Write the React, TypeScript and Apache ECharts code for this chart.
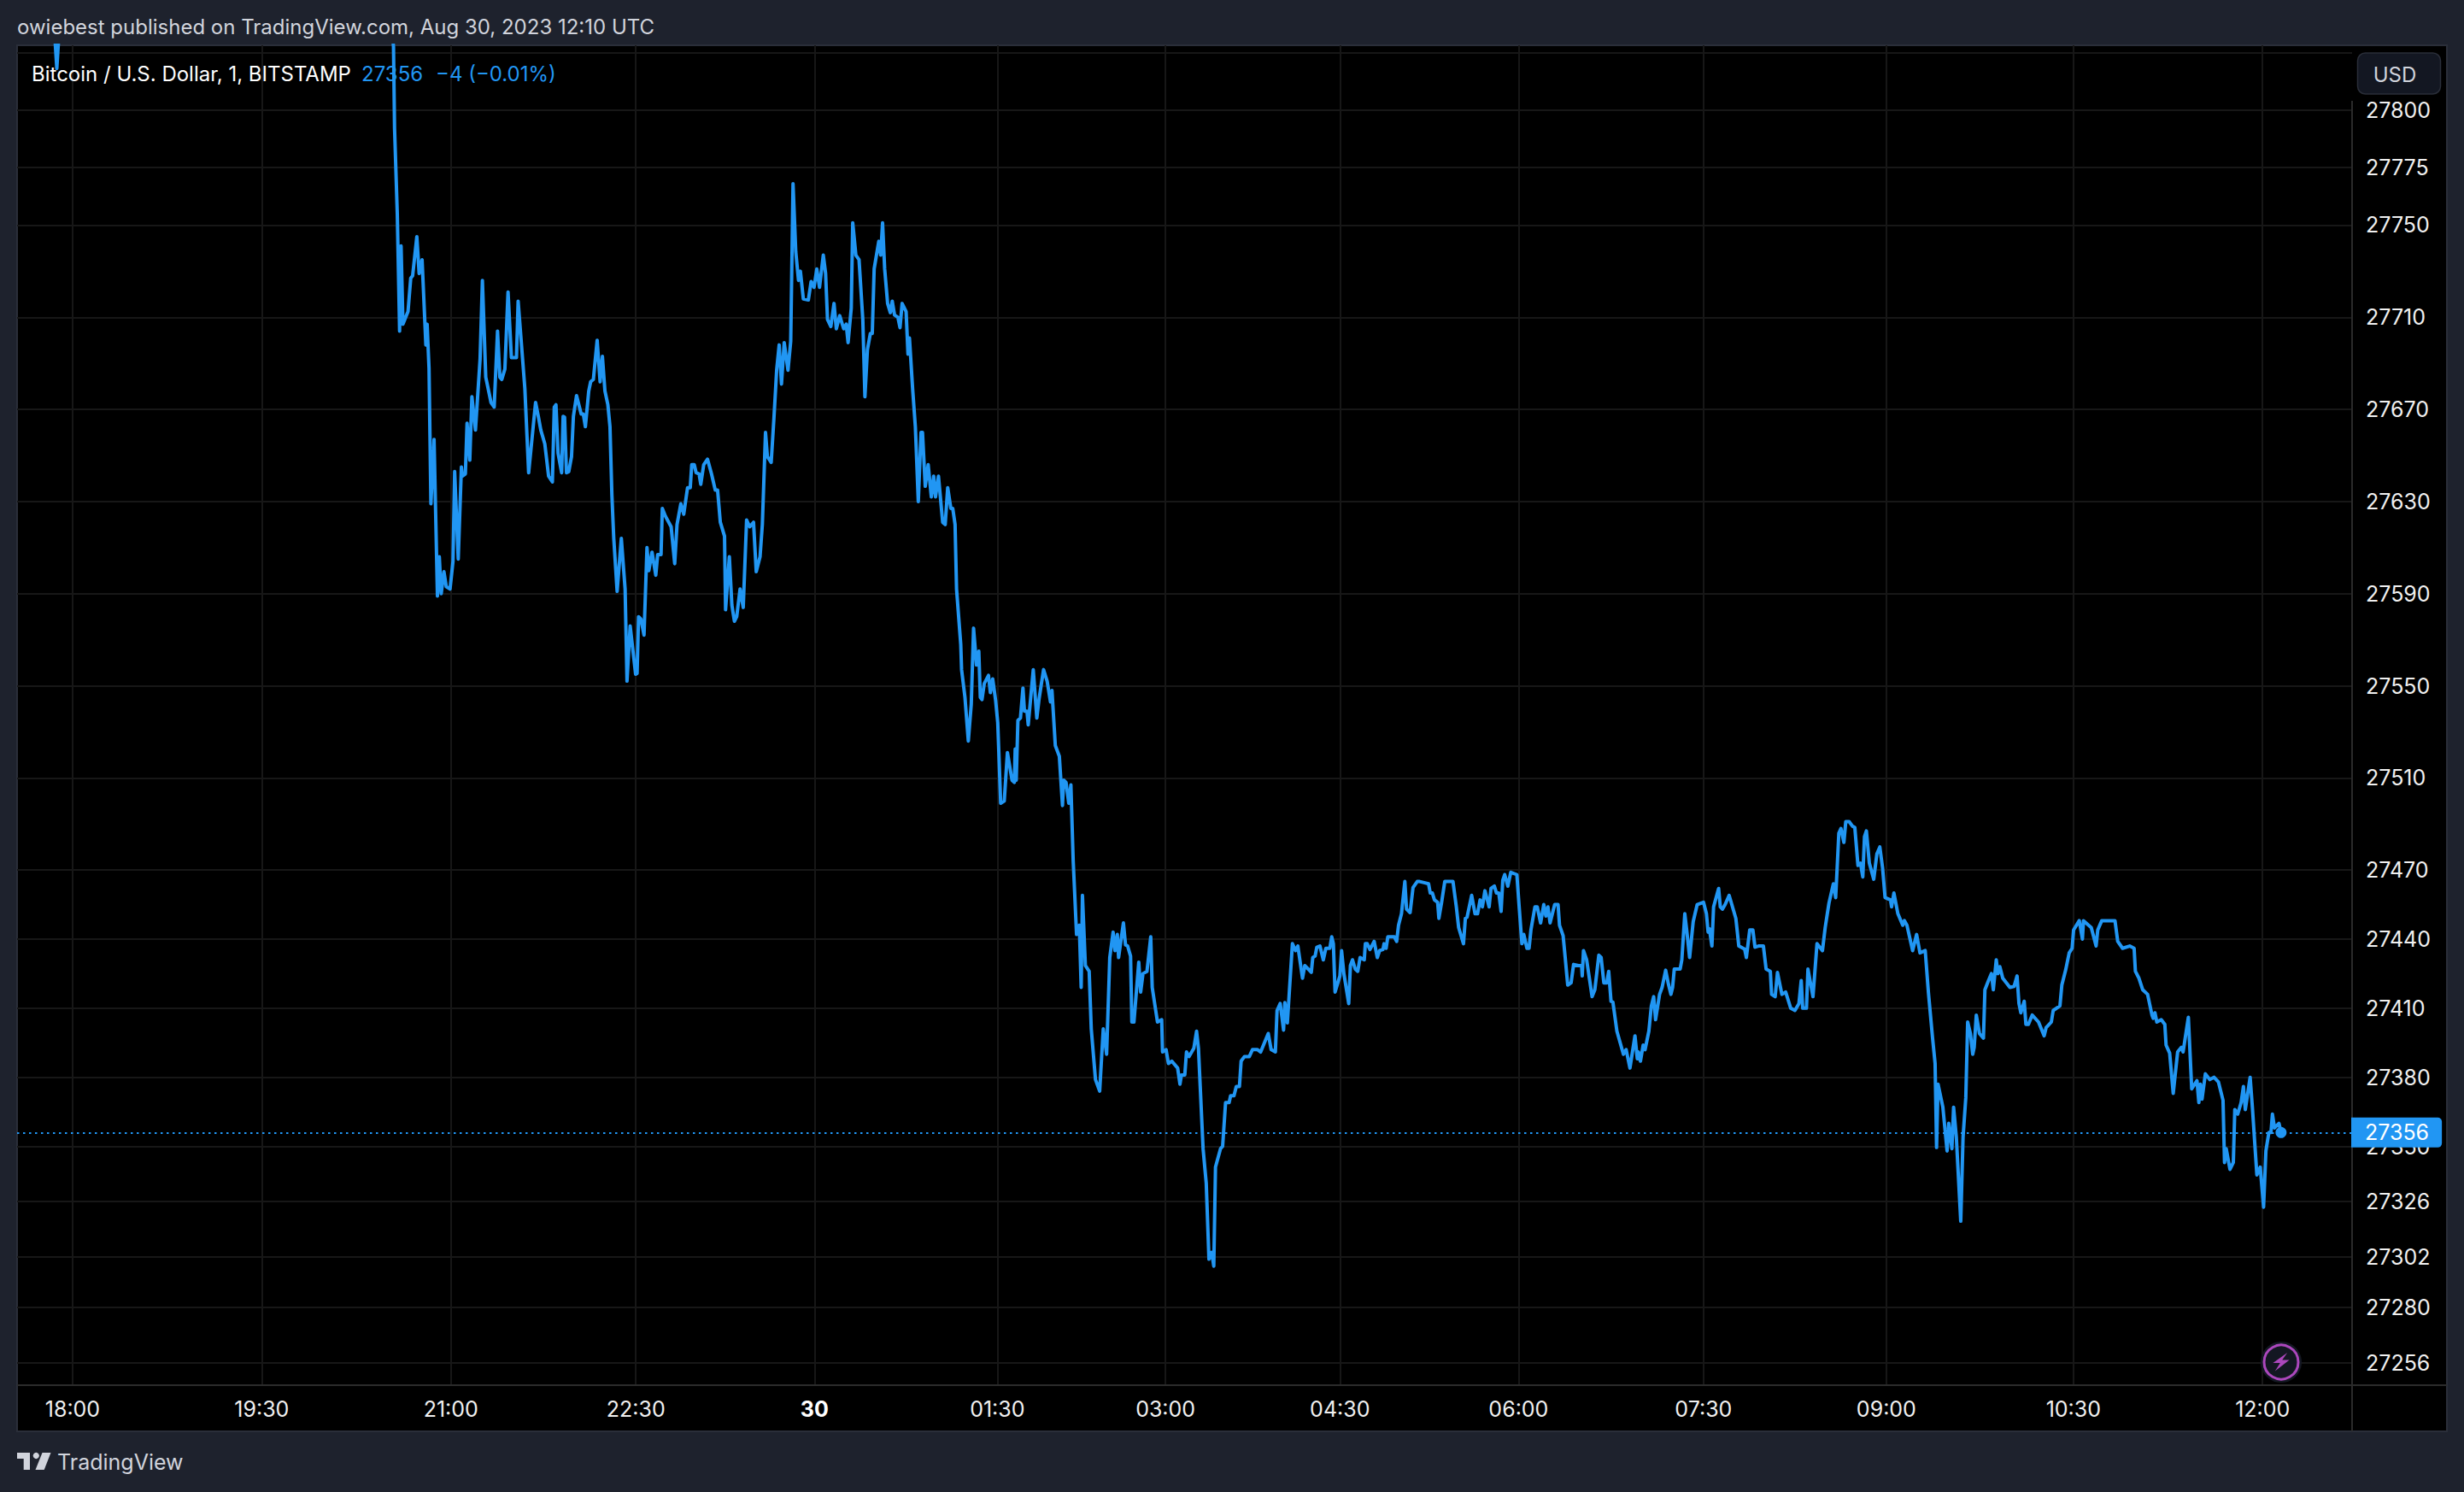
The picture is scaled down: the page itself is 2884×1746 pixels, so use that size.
import React, { useEffect, useRef } from "react";
import * as echarts from "echarts";

const headerText = "owiebest published on TradingView.com, Aug 30, 2023 12:10 UTC";
const symbolText = "Bitcoin / U.S. Dollar, 1, BITSTAMP";
const lastText = "27356";
const changeText = "\u22124 (\u22120.01%)";
const currency = "USD";
const brand = "TradingView";
const lastPrice = 27356;
const lastBar = 1050.8;

const priceTicks = [27825, 27800, 27775, 27750, 27710, 27670, 27630, 27590, 27550, 27510, 27470, 27440, 27410, 27380, 27350, 27326, 27302, 27280, 27256];
const timeTicks = [0, 90, 180, 268, 353, 440, 520, 603, 688, 776, 863, 952, 1042];
const timeLabels = ["18:00", "19:30", "21:00", "22:30", "30", "01:30", "03:00", "04:30", "06:00", "07:30", "09:00", "10:30", "12:00"];

// [bar index, price]
const offChart: number[][] = [[-11, 27860], [-9, 27840], [-7.5, 27818], [-6, 27840], [-4, 27860], [150, 27860]];
const evening: number[][] = [[152.7, 27827.4], [153.2, 27792], [154.5, 27755], [155.6, 27704], [156.3, 27741], [157.2, 27707], [159.6, 27712.5], [160.9, 27727], [161.8, 27728], [163.8, 27745], [164.9, 27729], [166.3, 27735], [168.1, 27698], [168.7, 27707], [169.6, 27688], [170.5, 27629], [172, 27657], [173.6, 27589], [174.5, 27606], [175.4, 27590], [176.7, 27599.5], [177.8, 27593], [179.6, 27592], [181, 27604], [181.8, 27643], [183.5, 27605], [185, 27645], [185.5, 27641], [186.9, 27642], [187.7, 27664], [189, 27648], [190, 27675.5], [191.7, 27661], [193.9, 27692], [195, 27726], [196.6, 27684], [199.1, 27673], [200.6, 27671], [202.2, 27704], [203.3, 27684], [204.2, 27683], [205.7, 27687.5], [207.2, 27721], [208.8, 27692.5], [211.2, 27692.5], [212, 27717], [215.2, 27679], [217, 27642.5], [220.3, 27673], [221.6, 27667], [222.8, 27661], [224.7, 27655], [226.5, 27641], [228.3, 27638.5], [229.2, 27671], [230, 27672], [231, 27651], [232.7, 27642.5], [233.4, 27667], [234.1, 27666.6], [235, 27642.5], [236.1, 27643], [237.4, 27649.5], [238.3, 27667], [239.8, 27676], [242, 27668], [243, 27668], [244, 27662.5], [245.6, 27678], [246.5, 27682], [247.8, 27683], [249.6, 27700], [251, 27682], [252.1, 27693], [253.3, 27678], [254.7, 27672], [255.7, 27662.5], [256.6, 27633], [257.5, 27614], [259.1, 27591], [261.1, 27614], [262.9, 27592], [263.8, 27552], [265.3, 27576], [267.9, 27555], [268.6, 27555.4], [269.3, 27580], [270.4, 27579], [271.9, 27572], [273.3, 27610], [274.2, 27600], [275.7, 27608], [277.5, 27598], [278.4, 27607], [280, 27607], [280.6, 27627], [282.1, 27623.6], [284.8, 27619], [286.5, 27603], [287.6, 27620], [289.4, 27629], [290.8, 27624.5], [292.6, 27636], [293.9, 27636], [294.6, 27646], [295.8, 27646], [296.7, 27642.5], [298.1, 27642], [298.9, 27637.5], [300.3, 27646], [302.1, 27648.4], [304, 27642], [305.8, 27635], [306.9, 27635], [308.2, 27621], [310.2, 27615], [310.7, 27583], [312.5, 27606], [313.7, 27585], [314.9, 27578], [316, 27580], [317.6, 27592], [319.1, 27584], [320.7, 27622], [322.2, 27619], [324, 27621], [325.3, 27599.5], [327.1, 27606], [328.2, 27620], [329.7, 27660], [330.6, 27649.5], [332.4, 27647], [333.7, 27666], [335, 27687], [336.2, 27698], [337.3, 27681], [338.6, 27699], [340.4, 27687], [341.7, 27699.6], [342.8, 27768], [344.1, 27738.5], [345.4, 27726], [346.3, 27730], [347.7, 27718], [350.1, 27717.5]];
const midnight: number[][] = [[351.4, 27725.5], [352.8, 27723], [354.1, 27731], [355.4, 27723], [357.2, 27737], [358.3, 27729], [359.2, 27709], [360.8, 27706], [362.3, 27716], [363.4, 27705], [365, 27710.7], [366.9, 27705], [368.1, 27707], [369, 27699], [370.5, 27714], [371.2, 27751], [372.7, 27737], [374.2, 27735], [376, 27709], [377, 27675.5], [378.2, 27696], [379.6, 27703], [380.5, 27703], [381.4, 27731], [383.6, 27743], [384.5, 27737], [385.4, 27751], [386.4, 27731], [387.8, 27716], [389.1, 27712], [390, 27717], [391.1, 27711], [392.7, 27710], [393.7, 27705.5], [394.7, 27716], [396.6, 27712.5], [397.5, 27694], [398.2, 27701], [399.7, 27679], [401, 27662.5], [402.4, 27630], [403.7, 27660], [404.4, 27660], [405.7, 27636.6], [407.1, 27646], [408.6, 27632], [409.7, 27641], [410.6, 27632], [412, 27641], [414, 27621], [415.2, 27620], [416.4, 27636], [417.9, 27627], [418.8, 27627], [419.9, 27620], [420.6, 27592], [422.6, 27568], [423, 27557], [424.6, 27545], [426.2, 27526], [427.6, 27542], [428.7, 27575], [430.1, 27559], [431.2, 27565], [431.9, 27545], [432.7, 27544], [433.8, 27551], [435.8, 27554.5], [436.7, 27547], [437.8, 27553], [439.2, 27543.6], [440.2, 27534], [441.6, 27499], [443.3, 27500], [444.8, 27521], [447, 27509], [448.1, 27508], [448.5, 27522.5], [449, 27509], [449.8, 27535], [451, 27536], [452.2, 27549], [452.9, 27539], [454.1, 27539], [454.7, 27533], [457.1, 27557], [458.8, 27536], [459.9, 27544.5], [462, 27557], [463.7, 27552], [465.3, 27543], [466, 27548], [467.6, 27524], [469.5, 27519.4], [471, 27498], [471.6, 27509], [472.7, 27508], [474, 27499], [475, 27507], [476.1, 27474], [477.7, 27442], [479, 27446], [479.9, 27419], [480.5, 27459], [481.9, 27428.5], [483.7, 27426], [484.7, 27401], [486.7, 27379], [488.7, 27374], [490.4, 27401], [492, 27390], [493.5, 27432], [495.1, 27443], [496, 27435], [497.1, 27442], [497.7, 27432], [500, 27447], [501, 27437.5], [502, 27437], [503.4, 27432.6], [504, 27404], [505, 27404], [507.3, 27430], [508.2, 27417], [509.3, 27425], [511.2, 27426], [513, 27441], [513.7, 27419], [516.2, 27404], [518.2, 27405], [518.6, 27391], [520.3, 27392], [521.4, 27386], [523, 27387], [525.8, 27384], [526.9, 27377], [527.6, 27381], [529.2, 27381], [530, 27391], [531.2, 27389], [533.5, 27392.6], [534.8, 27400], [535.7, 27392.6], [537.9, 27349], [539.4, 27334], [540.7, 27301], [542, 27304], [543, 27298], [543.8, 27341], [546.2, 27349], [547.2, 27350]];
const earlyMorning: number[][] = [[548.6, 27369], [550.3, 27369], [551, 27372], [552.6, 27372], [553.7, 27376], [555.2, 27376], [556, 27387], [557.6, 27389], [559.9, 27389], [561.4, 27392], [563.8, 27392], [565.3, 27391], [568.9, 27399], [570.3, 27392], [572.3, 27391], [573.1, 27409], [574.6, 27412], [576.2, 27400.5], [576.8, 27412.4], [578, 27403.6], [580.4, 27438], [581.9, 27435], [583, 27437], [585.2, 27423], [586.3, 27428.5], [589.4, 27425.6], [590.1, 27432], [591.2, 27432.6], [592, 27436.4], [593.5, 27437], [595.1, 27431], [596.3, 27436], [598.2, 27436], [599.1, 27441], [599.9, 27438], [600.7, 27417], [603, 27424], [603.8, 27435], [604.9, 27425], [607.2, 27412], [608, 27428.5], [609, 27431], [610.3, 27427], [611.5, 27426], [612.6, 27432], [614.6, 27431], [615.1, 27438], [616, 27438], [617.3, 27435.5], [619.3, 27439], [620.8, 27432], [621.9, 27435], [623.5, 27435.5], [624, 27438], [625, 27436], [625.8, 27441], [628.9, 27441], [630, 27439], [630.9, 27446], [632.3, 27451], [633.9, 27465], [634.7, 27453], [636.4, 27451.5], [637.8, 27462.4], [639.8, 27465], [640.9, 27465], [643, 27464.5], [645.2, 27464], [646, 27460], [647, 27460], [648, 27457], [649.5, 27456], [650.1, 27449], [651.4, 27456], [652.9, 27465], [654.9, 27465], [656.8, 27465], [658.4, 27454], [659.5, 27445], [661.8, 27438], [662.7, 27449], [663.5, 27449.5], [665.7, 27459], [667.3, 27451], [668.5, 27451], [669.7, 27457], [670.8, 27454], [672, 27461], [674, 27454], [674.9, 27462], [676.5, 27463], [677.5, 27460], [678.6, 27460], [679.7, 27452], [680.5, 27465.5], [681.4, 27468], [682.9, 27463], [684.3, 27469], [687.2, 27468], [688.3, 27454], [689.6, 27438], [690.5, 27442], [692, 27436], [693, 27436], [693.9, 27444], [695.8, 27454], [696.9, 27454], [698.5, 27447], [700, 27455], [701, 27450], [702, 27454], [703, 27447], [705.2, 27455], [706.8, 27455], [707.5, 27446], [709.2, 27441.5], [710.2, 27432], [711.4, 27420], [713, 27421], [714.2, 27429], [716.5, 27428.5], [718, 27428.5], [718.3, 27424], [718.9, 27435], [720.4, 27431], [723, 27415], [724.3, 27418], [726.2, 27433], [727.3, 27432], [728.6, 27421], [730, 27421], [730.9, 27426], [732, 27413], [732.9, 27412.6], [734.8, 27400], [737.9, 27390], [739.2, 27392], [741, 27384], [743.4, 27398], [744.5, 27388], [745, 27391], [746, 27387], [747.3, 27394], [748.2, 27392], [750, 27400], [751.2, 27411], [752.3, 27415], [753.2, 27405], [755.1, 27416], [756.3, 27419], [758, 27426.5], [759.3, 27420.5], [760.5, 27416], [761.3, 27419], [762.1, 27427], [764.9, 27427], [765.7, 27431], [767.1, 27451], [768, 27444], [769.4, 27432], [771.1, 27447.6], [773, 27455], [776, 27456], [777.4, 27451], [778.2, 27443], [778.8, 27444.5], [780, 27437], [780.8, 27454], [783.2, 27462], [784, 27454], [785, 27453], [786.3, 27455], [788.2, 27459], [791.4, 27449], [792.8, 27437], [795.6, 27435.6], [796.4, 27432], [798, 27444], [799.5, 27444], [800.5, 27436.5], [802.2, 27437], [804.5, 27437], [805.8, 27427], [807.8, 27426], [808.4, 27416], [810.1, 27415], [811.2, 27425.5], [813.3, 27416], [815.1, 27417], [817.5, 27410], [819.5, 27409], [821.4, 27412], [822.5, 27422], [823.2, 27410], [825, 27410], [825.7, 27427], [828.1, 27415], [830, 27438], [832.6, 27435], [833.9, 27445], [835.7, 27455.6], [837.8, 27464], [838.9, 27458], [840.4, 27486], [841.4, 27488], [842.8, 27482], [843.7, 27491], [845.3, 27491], [846.9, 27489], [848, 27488.5], [849.5, 27472], [850.7, 27473], [851.8, 27467], [852.6, 27484.5], [853.5, 27487], [854.9, 27473], [857, 27466], [858.5, 27477], [859.9, 27480], [861.2, 27471], [862.4, 27458]];
const lateMorning: number[][] = [[865, 27457], [865.5, 27454], [866.6, 27460], [868.5, 27451], [870.8, 27446], [871.6, 27448], [872.8, 27446], [875.5, 27435], [877.4, 27442], [879, 27434], [881.5, 27435], [883, 27417], [885, 27397], [886.2, 27386], [886.9, 27349.5], [887.6, 27377], [889.9, 27367], [891.9, 27348], [892.7, 27360], [894.2, 27349], [895, 27367], [896.3, 27354], [898.4, 27317.5], [899.5, 27354], [900.8, 27371], [901.7, 27404], [903, 27399], [904.1, 27390], [904.8, 27393], [905.8, 27407], [907.3, 27399], [909.2, 27397], [909.9, 27418], [911.6, 27422], [913, 27425], [913.9, 27418], [915.3, 27431], [916.1, 27425], [917, 27428], [918.4, 27423], [921.8, 27419], [923.8, 27419.5], [925.2, 27424], [926.1, 27412], [927, 27408], [928.6, 27413], [929.4, 27403], [930.6, 27403], [932.4, 27407], [935.4, 27404], [938.1, 27398], [939, 27401.5], [941.5, 27404], [942.4, 27409], [945.6, 27411], [946.5, 27420], [948.3, 27426.5], [950, 27434], [951.4, 27436], [952.1, 27444], [954.8, 27448], [956.3, 27440], [956.8, 27448], [960.5, 27445], [962.8, 27437], [963.6, 27444], [965.5, 27448], [971.8, 27448], [973.1, 27439], [975.4, 27436], [978.8, 27437], [980.9, 27436], [981.5, 27426], [983.2, 27423], [985, 27418], [987.3, 27416], [989.4, 27407], [990, 27405.6], [990.8, 27408], [991.7, 27404], [993.8, 27405], [995.5, 27403], [996.1, 27394], [997.8, 27390.5], [999.5, 27373], [1001.6, 27391], [1003.4, 27393], [1004.2, 27391], [1006.7, 27406], [1008.3, 27375], [1010.8, 27378.5], [1011.7, 27369], [1012.4, 27377], [1013.2, 27370.5], [1014.8, 27381.5], [1016.9, 27379], [1018.9, 27380], [1021, 27378], [1023.2, 27370], [1023.9, 27343], [1024.7, 27349], [1026.5, 27340], [1028.1, 27343], [1028.8, 27366], [1030.2, 27364], [1031.8, 27369], [1032.9, 27376], [1033.8, 27366], [1036.1, 27380], [1037.2, 27366.5], [1039.3, 27337.6], [1040.9, 27341], [1042.5, 27323.6], [1043.6, 27348], [1045, 27356], [1046, 27356], [1046.7, 27364], [1047.7, 27358], [1049.8, 27360], [1050.8, 27356]];

const BLUE = "#2196f3";
const PANEL = "#1e222d";
const BORDER = "#2a2e39";
const AXIS = "#2b2b2b";
const GRID = "#171717";
const FONT = "Inter, sans-serif";

const boltPath = "M6 0 L-8 10 L-1 10 L-6 18 L8 7 L1 7 Z";
echarts.graphic.registerShape("bolt", echarts.graphic.extendPath(boltPath, {}) as any);

export default function App() {
  const ref = useRef<HTMLDivElement>(null);
  useEffect(() => {
    if (!ref.current) return;
    const chart = echarts.init(ref.current, undefined, { renderer: "svg", width: 2884, height: 1746 });
    const text = (x: number, y: number, t: string, fill: string, size = 24, align = "left") => ({
      type: "text",
      z: 10,
      style: { x, y, text: t, fill, font: `${size}px ${FONT}`, textAlign: align, textVerticalAlign: "middle" },
    });
    const seg = (x1: number, y1: number, x2: number, y2: number, stroke: string) => ({
      type: "line",
      z: 5,
      shape: { x1, y1, x2, y2 },
      style: { stroke, lineWidth: 2 },
    });
    chart.setOption({
      animation: false,
      backgroundColor: PANEL,
      grid: { left: 20, right: 131, top: 53, bottom: 125, containLabel: false },
      xAxis: {
        type: "value",
        min: -26.4,
        max: 1084.6,
        axisLine: { show: false },
        axisTick: { show: false, customValues: timeTicks },
        splitLine: { show: true, lineStyle: { color: GRID, width: 2 } },
        axisLabel: {
          customValues: timeTicks,
          margin: 15,
          color: "#f0f0f0",
          fontFamily: FONT,
          fontSize: 25,
          formatter: (v: number) => {
            const label = timeLabels[timeTicks.indexOf(v)] ?? "";
            return label === "30" ? `{b|${label}}` : label;
          },
          rich: { b: { fontWeight: "bold", fontSize: 25, color: "#ffffff", fontFamily: FONT } },
        },
      },
      yAxis: {
        type: "value",
        position: "right",
        min: 27246.3,
        max: 27828.1,
        axisLine: { show: false },
        axisTick: { show: false, customValues: priceTicks },
        splitLine: { show: true, lineStyle: { color: GRID, width: 2 } },
        axisLabel: {
          customValues: priceTicks,
          margin: 16,
          color: "#f0f0f0",
          fontFamily: FONT,
          fontSize: 25,
          align: "left",
          formatter: (v: number) => (v === 27825 ? "" : String(v)),
        },
      },
      series: [
        {
          type: "line",
          data: [...offChart, ...evening, ...midnight, ...earlyMorning, ...lateMorning],
          symbol: "none",
          clip: true,
          lineStyle: { color: BLUE, width: 4, join: "round" },
          z: 3,
          markLine: {
            silent: true,
            symbol: "none",
            animation: false,
            lineStyle: { color: BLUE, width: 2, type: [2.5, 4.5], opacity: 1 },
            label: {
              show: true,
              position: "end",
              distance: -1,
              formatter: String(lastPrice),
              color: "#ffffff",
              fontFamily: FONT,
              fontSize: 25,
              backgroundColor: BLUE,
              borderRadius: [0, 5, 5, 0],
              padding: [5, 15, 5, 16],
            },
            data: [{ yAxis: lastPrice }],
          },
          markPoint: {
            silent: true,
            animation: false,
            symbol: "circle",
            symbolSize: 13,
            itemStyle: { color: BLUE },
            label: { show: false },
            data: [{ coord: [lastBar, lastPrice] }],
          },
        },
      ],
      graphic: {
        elements: [
          { type: "rect", z: -10, shape: { x: 20, y: 53, width: 2844, height: 1622 }, style: { fill: "#000000", stroke: BORDER, lineWidth: 2 } },
          seg(2753, 118, 2753, 1675, AXIS),
          seg(20, 1621, 2864, 1621, AXIS),
          text(20, 31, headerText, "#d1d4dc", 24),
          text(37, 86, symbolText, "#ffffff", 24),
          text(423, 86, lastText, BLUE, 24),
          text(510, 86, changeText, BLUE, 24),
          { type: "rect", z: 6, shape: { x: 2759.5, y: 62, width: 97, height: 48, r: 9 }, style: { fill: "#131722", stroke: BORDER, lineWidth: 1.5 } },
          text(2803, 87, currency, "#d1d4dc", 24, "center"),
          { type: "circle", z: 7, shape: { cx: 2670, cy: 1594, r: 24 }, style: { fill: "#131722" } },
          { type: "circle", z: 8, shape: { cx: 2670, cy: 1594, r: 20 }, style: { fill: "#131722", stroke: "#ab47bc", lineWidth: 3 } },
          { type: "bolt", z: 9, x: 2670, y: 1583, scaleX: 1.2, scaleY: 1.2, style: { fill: "#ab47bc" } },
          { type: "polygon", z: 9, shape: { points: [[20, 1700], [35, 1700], [35, 1720], [27.7, 1720], [27.7, 1707], [20, 1707]] }, style: { fill: "#d1d4dc" } },
          { type: "circle", z: 9, shape: { cx: 42.3, cy: 1703.5, r: 3.6 }, style: { fill: "#d1d4dc" } },
          { type: "polygon", z: 9, shape: { points: [[49.5, 1700], [59.5, 1700], [51.7, 1720], [41.5, 1720]] }, style: { fill: "#d1d4dc" } },
          text(67, 1711, brand, "#d1d4dc", 25),
        ],
      },
    });
    return () => chart.dispose();
  }, []);
  return <div ref={ref} style={{ position: "fixed", left: 0, top: 0, width: 2884, height: 1746 }} />;
}
